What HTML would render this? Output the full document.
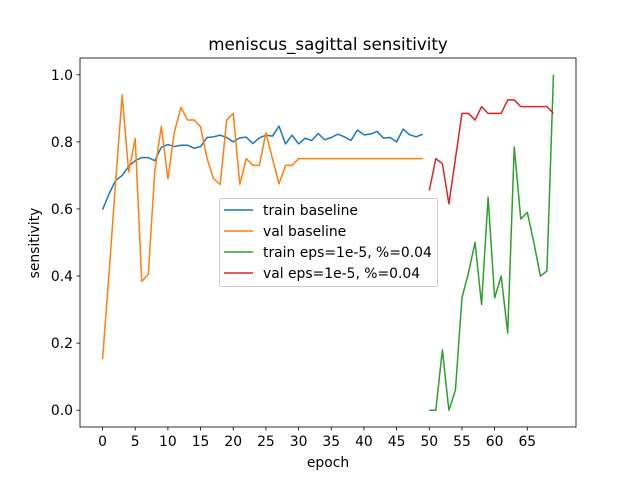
<!DOCTYPE html>
<html><head><meta charset="utf-8"><style>body{margin:0;background:#fff}svg{font-family:"DejaVu Sans","Liberation Sans",sans-serif}</style></head>
<body>
<svg id="chart" width="640" height="480" xmlns="http://www.w3.org/2000/svg"></svg>
<script>
const trainBase=[0.598,0.645,0.685,0.70,0.727,0.744,0.753,0.753,0.744,0.784,0.792,0.786,0.79,0.79,0.781,0.786,0.813,0.815,0.82,0.813,0.80,0.812,0.814,0.795,0.812,0.82,0.817,0.847,0.794,0.82,0.794,0.811,0.804,0.825,0.806,0.813,0.823,0.815,0.804,0.835,0.821,0.823,0.831,0.811,0.813,0.80,0.838,0.821,0.815,0.823];
const valBase=[0.152,0.41,0.68,0.94,0.71,0.81,0.384,0.405,0.714,0.846,0.69,0.83,0.903,0.865,0.865,0.845,0.75,0.69,0.673,0.865,0.885,0.673,0.75,0.73,0.73,0.827,0.75,0.675,0.73,0.73,0.75,0.75,0.75,0.75,0.75,0.75,0.75,0.75,0.75,0.75,0.75,0.75,0.75,0.75,0.75,0.75,0.75,0.75,0.75,0.75];
const trainEps=[0,0,0.18,0,0.06,0.335,0.41,0.5,0.315,0.635,0.335,0.4,0.23,0.785,0.57,0.59,0.5,0.4,0.415,1.0];
const valEps=[0.655,0.75,0.735,0.615,0.75,0.885,0.885,0.865,0.905,0.885,0.885,0.885,0.925,0.925,0.905,0.905,0.905,0.905,0.905,0.885];
const epsStart=50;
const xTicks=[0,5,10,15,20,25,30,35,40,45,50,55,60,65];
const yTicks=[0,0.2,0.4,0.6,0.8,1.0];
const L=80,R=576,T=58,B=427,xmin=-3.45,xmax=72.45,ymin=-0.05,ymax=1.05;
const X=v=>L+(v-xmin)/(xmax-xmin)*(R-L);
const Y=v=>B-(v-ymin)/(ymax-ymin)*(B-T);
const svg=document.getElementById('chart');const NS='http://www.w3.org/2000/svg';
function mk(t,a,txt){const e=document.createElementNS(NS,t);for(const k in a)e.setAttribute(k,a[k]);if(txt!==undefined)e.textContent=txt;svg.appendChild(e);return e;}
function line(data,off,color,name){const pts=data.map((v,i)=>X(i+off).toFixed(2)+','+Y(v).toFixed(2)).join(' ');const e=mk('polyline',{points:pts,fill:'none',stroke:color,'stroke-width':1.5,'stroke-linejoin':'round'});

}
line(trainBase,0,'#1f77b4','train-baseline-line');
line(valBase,0,'#ff7f0e','val-baseline-line');
line(trainEps,epsStart,'#2ca02c','train-eps-line');
line(valEps,epsStart,'#d62728','val-eps-line');
const fr=mk('rect',{x:L,y:T,width:R-L,height:B-T,fill:'none',stroke:'#000','stroke-width':0.8});


xTicks.forEach(t=>{const x=X(t);mk('line',{x1:x,x2:x,y1:B,y2:B+3.5,stroke:'#000','stroke-width':0.8});const e=mk('text',{x:x,y:B+19,'font-size':13.9,'text-anchor':'middle'},String(t));

});
yTicks.forEach(t=>{const y=Y(t);mk('line',{x1:L,x2:L-3.5,y1:y,y2:y,stroke:'#000','stroke-width':0.8});const e=mk('text',{x:L-7,y:y+5,'font-size':13.9,'text-anchor':'end'},t.toFixed(1));

});
</script>
<svg width="640" height="480" style="position:absolute;left:0;top:0" xmlns="http://www.w3.org/2000/svg">
<text x="328" y="50" font-size="16.7" text-anchor="middle" font-family="DejaVu Sans,sans-serif">meniscus_sagittal sensitivity</text>
<text x="328" y="467" font-size="13.9" text-anchor="middle" font-family="DejaVu Sans,sans-serif">epoch</text>
<text x="39" y="243" font-size="13.9" text-anchor="middle" transform="rotate(-90 39 243)" font-family="DejaVu Sans,sans-serif">sensitivity</text>
<g font-family="DejaVu Sans,sans-serif" font-size="13.9">
<rect x="219.5" y="198.5" width="218" height="88" rx="2" fill="#fff" fill-opacity="0.8" stroke="#ccc"/>
<line x1="224" x2="253" y1="210" y2="210" stroke="#1f77b4" stroke-width="1.5"/><text x="263" y="215">train baseline</text>
<line x1="224" x2="253" y1="231" y2="231" stroke="#ff7f0e" stroke-width="1.5"/><text x="263" y="236">val baseline</text>
<line x1="224" x2="253" y1="252" y2="252" stroke="#2ca02c" stroke-width="1.5"/><text x="263" y="257">train eps=1e-5, %=0.04</text>
<line x1="224" x2="253" y1="273" y2="273" stroke="#d62728" stroke-width="1.5"/><text x="263" y="278">val eps=1e-5, %=0.04</text>
</g>
</svg>
</body></html>
